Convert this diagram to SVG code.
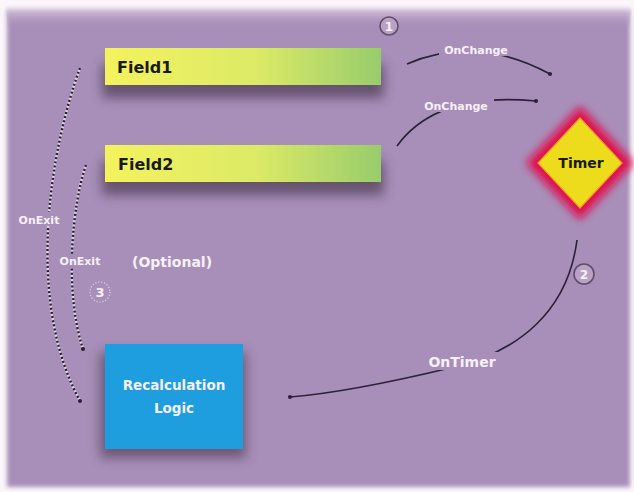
<svg xmlns="http://www.w3.org/2000/svg" width="634" height="492" viewBox="0 0 634 492">
  <defs>
    <linearGradient id="fieldFill" x1="0" y1="0" x2="1" y2="0">
      <stop offset="0" stop-color="#f4f25e"/>
      <stop offset="0.55" stop-color="#dcea66"/>
      <stop offset="1" stop-color="#98cc6c"/>
    </linearGradient>
    <linearGradient id="topShade" x1="0" y1="0" x2="0" y2="1">
      <stop offset="0" stop-color="#f6f0f6"/>
      <stop offset="0.4" stop-color="#c9b4d2"/>
      <stop offset="1" stop-color="#a88fb9" stop-opacity="0"/>
    </linearGradient>
    <filter id="soft" x="-20%" y="-60%" width="140%" height="220%">
      <feGaussianBlur stdDeviation="6"/>
    </filter>
    <filter id="glow" x="-30%" y="-30%" width="160%" height="160%">
      <feGaussianBlur stdDeviation="4"/>
    </filter>
    <filter id="edge" x="-5%" y="-5%" width="110%" height="110%">
      <feGaussianBlur stdDeviation="2"/>
    </filter>
    <marker id="dot" viewBox="0 0 6 6" refX="3" refY="3" markerWidth="4" markerHeight="4" markerUnits="userSpaceOnUse">
      <circle cx="3" cy="3" r="3" fill="#2a2034"/>
    </marker>
    <style>
      .lbl { font-family: "DejaVu Sans", "Liberation Sans", sans-serif; font-weight: bold; fill: #f6f0f8; }
      .small { font-size: 11px; }
      .dark { font-family: "DejaVu Sans", "Liberation Sans", sans-serif; font-weight: bold; fill: #1a1a14; }
      .wire { fill: none; stroke: #2a2236; stroke-width: 1.6; }
      .dots-base { fill: none; stroke: #e6dcea; stroke-width: 2.4; opacity: 0.85; }
      .dots { fill: none; stroke: #2a2034; stroke-width: 2.4; stroke-dasharray: 2 2.2; }
      .badge { fill: #b8a2c6; stroke: #5e4e6c; stroke-width: 1.6; }
    </style>
  </defs>

  <!-- page and backdrop -->
  <rect width="634" height="492" fill="#faf6fa"/>
  <rect x="7" y="9" width="623" height="478" fill="#a88fb9" filter="url(#edge)"/>
  <rect x="7" y="6" width="623" height="22" fill="url(#topShade)" opacity="0.7"/>

  <!-- connectors -->
  <g id="connectors">
    <!-- OnChange from Field1 -->
    <path class="wire" d="M407,64 Q476,34 550,74" marker-end="url(#dot)"/>
    <!-- OnChange from Field2 -->
    <path class="wire" d="M397,146 C420,114 462,94 536,101" marker-end="url(#dot)"/>
    <!-- OnTimer from Timer -->
    <path class="wire" d="M577,240 C568,310 520,352 450,368 C400,380 340,393 290,397" marker-end="url(#dot)"/>
    <!-- OnExit from Field1 (dotted) -->
    <path class="dots-base" d="M80,68 C50,150 25,300 80,401"/>
    <path class="dots" d="M80,68 C50,150 25,300 80,401" marker-end="url(#dot)"/>
    <!-- OnExit from Field2 (dotted) -->
    <path class="dots-base" d="M86,165 C72,205 64,292 83,349"/>
    <path class="dots" d="M86,165 C72,205 64,292 83,349" marker-end="url(#dot)"/>

    <!-- label plates and labels -->
    <rect x="439" y="43" width="74" height="13" fill="#a88fb9"/>
    <text class="lbl small" x="476" y="54" text-anchor="middle">OnChange</text>
    <rect x="418" y="99" width="76" height="13" fill="#a88fb9"/>
    <text class="lbl small" x="456" y="110" text-anchor="middle">OnChange</text>
    <rect x="424" y="352" width="76" height="18" fill="#a88fb9"/>
    <text class="lbl" x="462" y="367" text-anchor="middle" font-size="14">OnTimer</text>
    <rect x="14" y="212" width="50" height="14" fill="#a88fb9"/>
    <text class="lbl small" x="39" y="224" text-anchor="middle">OnExit</text>
    <rect x="56" y="254" width="48" height="14" fill="#a88fb9"/>
    <text class="lbl small" x="80" y="265" text-anchor="middle">OnExit</text>
  </g>

  <!-- Field1 -->
  <g id="field1">
    <rect x="102" y="64" width="282" height="34" fill="#3a2a40" opacity="0.6" filter="url(#soft)"/>
    <rect x="105" y="48" width="276" height="37" fill="url(#fieldFill)"/>
    <text class="dark" x="117" y="73" font-size="16">Field1</text>
  </g>

  <!-- Field2 -->
  <g id="field2">
    <rect x="102" y="161" width="282" height="34" fill="#3a2a40" opacity="0.6" filter="url(#soft)"/>
    <rect x="105" y="145" width="276" height="37" fill="url(#fieldFill)"/>
    <text class="dark" x="118" y="170" font-size="16">Field2</text>
  </g>

  <!-- Timer -->
  <g id="timer">
    <polygon points="580,106 634,163 580,220 526,163" fill="#e0104e" filter="url(#glow)"/>
    <polygon points="580,118 622,163 580,208 538,163" fill="#ecdc1c" stroke="#f0a020" stroke-width="1.2"/>
    <text class="dark" x="581" y="168" font-size="14" text-anchor="middle">Timer</text>
  </g>

  <!-- Recalculation Logic -->
  <g id="recalc">
    <rect x="100" y="352" width="146" height="106" fill="#3a2a40" opacity="0.55" filter="url(#soft)"/>
    <rect x="105" y="344" width="138" height="105" fill="#1e9ddf"/>
    <text class="lbl" x="174" y="390" font-size="13.5" text-anchor="middle">Recalculation</text>
    <text class="lbl" x="174" y="413" font-size="13.5" text-anchor="middle">Logic</text>
  </g>

  <!-- annotation -->
  <g id="optional">
    <text class="lbl" x="132" y="267" font-size="14">(Optional)</text>
  </g>

  <!-- step badges -->
  <g id="step1">
    <circle class="badge" cx="389" cy="26" r="9"/>
    <text class="lbl" x="389" y="30.5" font-size="12" text-anchor="middle">1</text>
  </g>
  <g id="step2">
    <circle class="badge" cx="584" cy="274" r="10"/>
    <text class="lbl" x="584" y="278.5" font-size="12" text-anchor="middle">2</text>
  </g>
  <g id="step3">
    <circle cx="100" cy="292" r="10" fill="none" stroke="#ddd0e4" stroke-width="1.2" stroke-dasharray="1.2 1.8"/>
    <text class="lbl" x="100" y="297" font-size="13" text-anchor="middle">3</text>
  </g>
</svg>
